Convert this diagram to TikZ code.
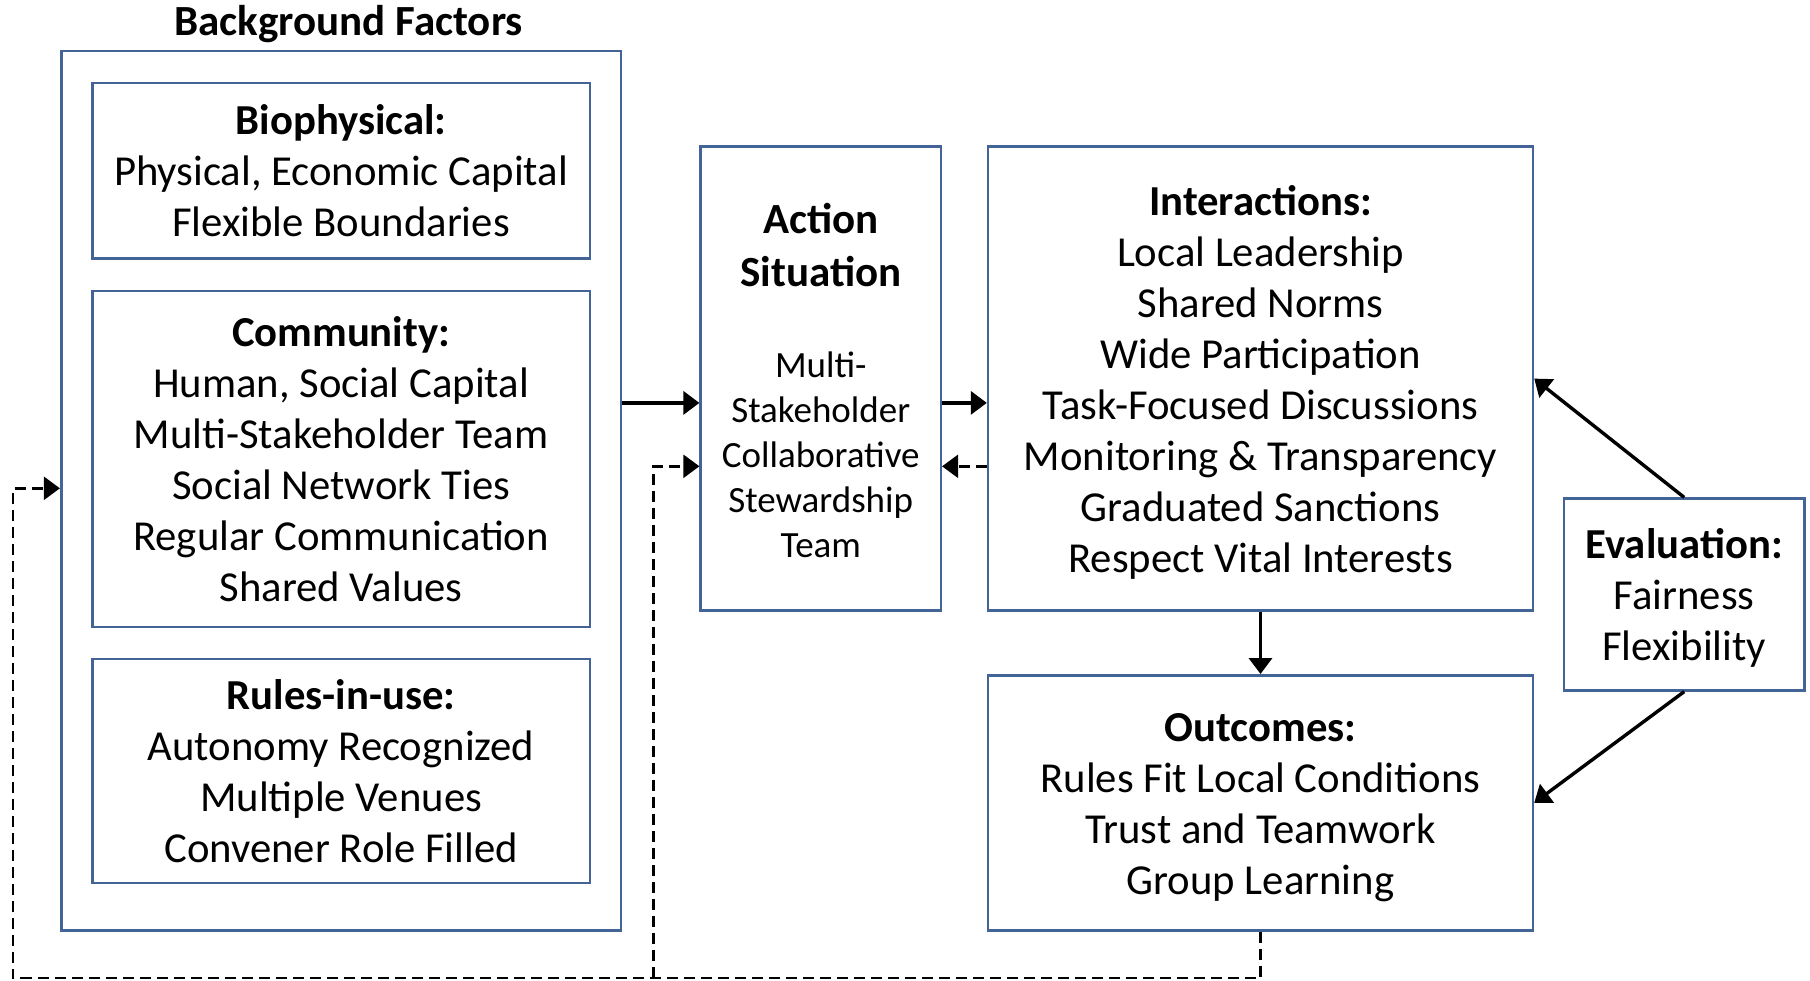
\documentclass[tikz,border=0pt]{standalone}
\usepackage{fontspec}
\setmainfont{Carlito}
\usetikzlibrary{arrows.meta}
\definecolor{boxblue}{RGB}{66,100,150}
\newcommand{\acttitle}[1]{{\fontsize{43}{53}\selectfont\bfseries #1}}
\tikzset{
  box/.style={draw=boxblue, line width=2.6pt, rectangle, align=center, inner sep=0pt,
              font=\fontsize{42.7}{51}\selectfont},
  boxtext/.style={align=center, inner sep=0pt, font=\fontsize{42.7}{51}\selectfont},
  arr/.style={line width=3.4pt, -{Triangle[length=16pt,width=23pt]}},
  darr/.style={line width=2.4pt, dash pattern=on 11pt off 6pt, -{Triangle[length=16pt,width=23pt]}},
}
\begin{document}
\begin{tikzpicture}[x=1pt,y=-1pt]
\useasboundingbox (0,0) rectangle (1810,980);
\node[font=\fontsize{43}{50}\selectfont\bfseries] (title) at (348.6,24) {Background Factors};
\node[box, minimum width=559.8pt, minimum height=879.6pt] (bg) at (341.1,490.6) {};
\node[box, minimum width=497.6pt, minimum height=175.5pt] (bio) at (341.1,170.85)
  {\textbf{Biophysical:}\\Physical, Economic Capital\\Flexible Boundaries};
\node[box, minimum width=497.6pt, minimum height=335.9pt] (comm) at (341.1,458.85)
  {\textbf{Community:}\\Human, Social Capital\\Multi-Stakeholder Team\\Social Network Ties\\Regular Communication\\Shared Values};
\node[box, minimum width=497.6pt, minimum height=224pt] (rules) at (341.1,771.1)
  {\textbf{Rules-in-use:}\\Autonomy Recognized\\Multiple Venues\\Convener Role Filled};
\node[box, minimum width=240.1pt, minimum height=464pt] (act) at (820.75,378.6) {};
\node[boxtext, font=\fontsize{37}{45}\selectfont, yshift=-2.4pt] (acttext) at (act.center)
  {\acttitle{Action}\\[8pt]\acttitle{Situation}\\[46pt]Multi-\\Stakeholder\\Collaborative\\Stewardship\\Team};
\node[box, minimum width=544.8pt, minimum height=464pt] (inter) at (1260.5,378.6) {};
\node[boxtext, yshift=-3.5pt] (intertext) at (inter.center)
  {\textbf{Interactions:}\\Local Leadership\\Shared Norms\\Wide Participation\\Task-Focused Discussions\\Monitoring \& Transparency\\Graduated Sanctions\\Respect Vital Interests};
\node[box, minimum width=544.8pt, minimum height=255.1pt] (out) at (1260.5,802.85) {};
\node[boxtext, yshift=-4.5pt] (outtext) at (out.center)
  {\textbf{Outcomes:}\\Rules Fit Local Conditions\\Trust and Teamwork\\Group Learning};
\node[box, minimum width=240.2pt, minimum height=191.6pt] (eval) at (1684.2,594.5) {};
\node[boxtext, yshift=-3.5pt] (evaltext) at (eval.center)
  {\textbf{Evaluation:}\\Fairness\\Flexibility};
\coordinate (ya) at (0,402.9);
\coordinate (yd) at (0,466.3);
\coordinate (yl) at (0,488.3);
\coordinate (fb1) at (1260.5,977.7);
\coordinate (fb2) at (12.7,977.7);
\coordinate (fb3) at (12.7,488.3);
\coordinate (br1) at (653.3,977.7);
\coordinate (br2) at (653.3,466.3);
\draw[arr] (bg.east |- ya) -- (act.west |- ya);
\draw[arr] (act.east |- ya) -- (inter.west |- ya);
\draw[darr] (inter.west |- yd) -- (act.east |- yd);
\draw[arr] (inter.south) -- (out.north);
\draw[arr] (eval.north) -- (inter.east);
\draw[arr] (eval.south) -- (out.east);
\draw[darr] (out.south) -- (fb1) -- (fb2) -- (fb3) -- (bg.west |- yl);
\draw[darr] (br1) -- (br2) -- (act.west |- yd);
\end{tikzpicture}
\end{document}
